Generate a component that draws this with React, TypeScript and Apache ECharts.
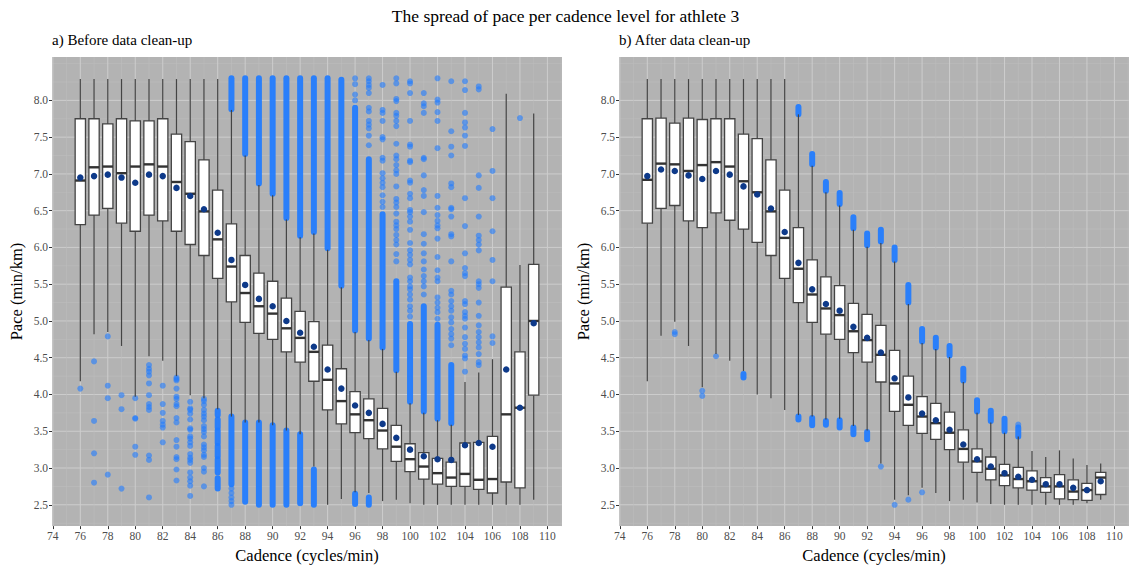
import React, { useEffect, useRef } from "react";
import * as echarts from "echarts";

// ---- axis ticks & grid positions ----
const xTicks = [74, 76, 78, 80, 82, 84, 86, 88, 90, 92, 94, 96, 98, 100, 102, 104, 106, 108, 110];
const xMinor = [75, 77, 79, 81, 83, 85, 87, 89, 91, 93, 95, 97, 99, 101, 103, 105, 107, 109, 111];
const yTicks = [2.5, 3.0, 3.5, 4.0, 4.5, 5.0, 5.5, 6.0, 6.5, 7.0, 7.5, 8.0];
const yMinor = [2.25, 2.75, 3.25, 3.75, 4.25, 4.75, 5.25, 5.75, 6.25, 6.75, 7.25, 7.75, 8.25, 8.5];

// ---- a) before clean-up: [cadence, lower whisker, Q1, median, Q3, upper whisker] ----
const beforeBoxes: number[][] = [
  [76, 4.18, 6.31, 6.91, 7.75, 8.29],
  [77, 4.82, 6.44, 7.09, 7.75, 8.29],
  [78, 4.85, 6.53, 7.10, 7.68, 8.29],
  [79, 4.66, 6.33, 7.01, 7.75, 8.29],
  [80, 3.97, 6.22, 7.10, 7.72, 8.29],
  [81, 4.52, 6.44, 7.13, 7.72, 8.29],
  [82, 4.46, 6.36, 7.10, 7.75, 8.29],
  [83, 4.25, 6.22, 6.89, 7.54, 8.29],
  [84, 3.99, 6.04, 6.73, 7.44, 8.29],
  [85, 3.95, 5.89, 6.49, 7.19, 8.29],
  [86, 3.80, 5.58, 6.11, 6.78, 8.29],
  [87, 3.70, 5.26, 5.74, 6.32, 7.87],
  [88, 3.62, 4.98, 5.38, 5.89, 7.25],
  [89, 3.62, 4.83, 5.20, 5.65, 6.85],
  [90, 3.58, 4.75, 5.10, 5.54, 6.71],
  [91, 3.51, 4.58, 4.90, 5.31, 6.38],
  [92, 3.46, 4.44, 4.77, 5.13, 6.14],
  [93, 3.02, 4.18, 4.58, 4.99, 6.19],
  [94, 2.50, 3.79, 4.20, 4.67, 5.97],
  [95, 2.58, 3.60, 3.91, 4.35, 5.46],
  [96, 2.67, 3.48, 3.73, 4.04, 4.85],
  [97, 2.66, 3.40, 3.65, 3.94, 4.74],
  [98, 2.55, 3.26, 3.51, 3.81, 4.62],
  [99, 2.57, 3.09, 3.29, 3.58, 4.31],
  [100, 2.52, 2.95, 3.12, 3.33, 3.88],
  [101, 2.50, 2.85, 3.02, 3.21, 3.75],
  [102, 2.50, 2.78, 2.93, 3.13, 3.65],
  [103, 2.50, 2.75, 2.87, 3.08, 3.59],
  [104, 2.50, 2.75, 2.92, 3.34, 4.17],
  [105, 2.50, 2.71, 2.84, 3.35, 4.30],
  [106, 2.50, 2.66, 2.85, 3.43, 4.48],
  [107, 2.50, 2.81, 3.73, 5.46, 8.09],
  [108, 2.50, 2.73, 3.82, 4.58, 5.76],
  [109, 2.57, 3.99, 5.00, 5.77, 7.82],
];

const beforeMeans: number[][] = [
  [76, 6.95], [77, 6.97], [78, 6.99], [79, 6.95], [80, 6.88], [81, 6.99], [82, 6.97],
  [83, 6.81], [84, 6.70], [85, 6.52], [86, 6.20], [87, 5.83], [88, 5.49], [89, 5.30],
  [90, 5.20], [91, 5.00], [92, 4.84], [93, 4.65], [94, 4.34], [95, 4.08], [96, 3.85],
  [97, 3.75], [98, 3.60], [99, 3.41], [100, 3.25], [101, 3.16], [102, 3.12], [103, 3.11],
  [104, 3.31], [105, 3.34], [106, 3.29], [107, 4.34], [108, 3.82], [109, 4.97],
];

// runs of overlapping outliers: [cadence, low, high]
const beforeOutlierRuns: number[][] = [
  [86, 3.72, 3.78], [86, 3.55, 3.66], [86, 3.34, 3.51], [86, 3.16, 3.30], [86, 2.94, 3.12], [86, 2.72, 2.86],
  [87, 2.78, 3.70], [88, 2.54, 3.62], [89, 2.50, 3.62], [90, 2.50, 3.58],
  [91, 2.50, 3.51], [92, 2.52, 3.46], [93, 2.50, 2.98], [96, 2.51, 2.65], [97, 2.50, 2.60],
  [87, 7.88, 8.30], [88, 7.27, 8.30], [89, 6.87, 8.30], [90, 6.73, 8.30], [91, 6.40, 8.30],
  [92, 6.16, 8.30], [93, 6.21, 8.30], [94, 5.99, 8.30], [95, 5.48, 8.28], [96, 4.87, 7.90],
  [97, 4.76, 7.20], [98, 4.64, 6.45], [99, 4.33, 5.54], [100, 3.90, 4.96], [101, 3.77, 5.20],
  [102, 3.67, 4.95], [103, 3.61, 4.40],
];

// single outliers per cadence
const beforeOutliers: [number, number[]][] = [
  [76, [4.08]],
  [77, [4.45, 3.64, 3.20, 2.80]],
  [78, [4.79, 4.12, 3.95, 2.91]],
  [79, [3.99, 3.80, 2.72]],
  [80, [3.95, 3.68, 3.67, 3.29, 3.18]],
  [81, [4.40, 4.35, 4.31, 4.26, 4.15, 3.99, 3.87, 3.83, 3.79, 3.17, 3.11, 2.60]],
  [82, [4.12, 3.87, 3.75, 3.64, 3.59, 3.55, 3.35]],
  [83, [4.23, 4.21, 4.19, 4.08, 3.97, 3.94, 3.87, 3.84, 3.68, 3.62, 3.38, 3.29, 3.15, 3.12, 2.98, 2.83]],
  [84, [3.90, 3.81, 3.79, 3.74, 3.66, 3.54, 3.52, 3.43, 3.40, 3.35, 3.30, 3.19, 3.14, 3.11, 3.07, 2.94, 2.87, 2.82, 2.76, 2.62]],
  [85, [3.94, 3.91, 3.86, 3.79, 3.74, 3.70, 3.65, 3.57, 3.53, 3.49, 3.43, 3.32, 3.28, 3.24, 3.18, 3.15, 3.00, 2.95, 2.75]],
  [87, [2.72, 2.66, 2.60, 2.55, 2.50]],
  [96, [8.30, 8.22, 8.08, 8.00]],
  [97, [8.30, 8.26, 8.21, 8.17, 8.10, 7.90, 7.85, 7.72, 7.67, 7.62, 7.52, 7.39]],
  [98, [8.21, 7.87, 7.83, 7.72, 7.50, 7.47, 7.22, 7.18, 7.01, 6.94, 6.88, 6.82, 6.71, 6.62, 6.55]],
  [99, [8.30, 8.23, 8.02, 7.99, 7.83, 7.79, 7.72, 7.65, 7.41, 7.25, 7.20, 7.12, 7.05, 7.00, 6.83, 6.66, 6.61, 6.55, 6.46, 6.35, 6.30, 6.25, 6.17, 6.10, 6.04, 5.91, 5.81]],
  [100, [8.26, 8.23, 8.10, 7.72, 7.40, 7.37, 7.18, 7.16, 6.91, 6.88, 6.73, 6.67, 6.51, 6.48, 6.42, 6.35, 6.24, 6.06, 5.96, 5.90, 5.83, 5.77, 5.59, 5.54, 5.47, 5.43, 5.36, 5.29, 5.20, 5.14, 5.06]],
  [101, [8.10, 7.96, 7.92, 7.83, 7.22, 7.20, 6.98, 6.78, 6.70, 6.48, 6.18, 6.05, 5.92, 5.81, 5.70, 5.61, 5.54, 5.47, 5.36]],
  [102, [8.30, 8.01, 7.97, 7.84, 7.72, 7.35, 6.70, 6.54, 6.44, 6.36, 6.30, 6.26, 6.12, 5.87, 5.69, 5.59, 5.54, 5.32, 5.25, 5.18, 5.12, 5.03]],
  [103, [8.26, 7.58, 7.37, 7.25, 6.87, 6.82, 6.54, 6.52, 6.42, 6.18, 6.15, 5.81, 5.41, 5.36, 5.27, 5.20, 5.14, 5.05, 4.98, 4.89, 4.82, 4.76, 4.67]],
  [104, [8.26, 8.14, 7.83, 7.70, 7.63, 7.52, 7.38, 6.67, 6.29, 5.92, 5.72, 5.65, 5.61, 5.27, 5.23, 5.12, 5.07, 5.03, 4.91, 4.78, 4.69, 4.62, 4.53, 4.49, 4.31]],
  [105, [8.19, 8.15, 6.98, 6.81, 6.42, 6.16, 6.10, 6.04, 5.96, 5.54, 5.50, 5.45, 5.25, 5.07, 4.94, 4.85, 4.78, 4.71, 4.64, 4.55, 4.44, 4.40]],
  [106, [7.61, 7.04, 6.67, 6.22, 5.83, 5.54, 4.79, 4.70]],
  [108, [7.76]],
];

// ---- b) after clean-up ----
const afterBoxes: number[][] = [
  [76, 4.18, 6.33, 6.92, 7.75, 8.29],
  [77, 4.80, 6.53, 7.14, 7.76, 8.29],
  [78, 4.99, 6.57, 7.13, 7.69, 8.29],
  [79, 4.66, 6.36, 7.04, 7.76, 8.29],
  [80, 4.10, 6.27, 7.12, 7.74, 8.29],
  [81, 4.55, 6.47, 7.16, 7.75, 8.29],
  [82, 4.46, 6.37, 7.10, 7.75, 8.29],
  [83, 4.32, 6.25, 6.90, 7.54, 8.29],
  [84, 4.00, 6.07, 6.75, 7.48, 8.29],
  [85, 3.95, 5.89, 6.49, 7.19, 8.29],
  [86, 3.79, 5.58, 6.13, 6.78, 8.29],
  [87, 3.72, 5.25, 5.71, 6.27, 7.81],
  [88, 3.70, 4.98, 5.36, 5.83, 7.11],
  [89, 3.66, 4.82, 5.17, 5.60, 6.75],
  [90, 3.67, 4.75, 5.08, 5.48, 6.57],
  [91, 3.57, 4.57, 4.86, 5.24, 6.24],
  [92, 3.51, 4.44, 4.74, 5.09, 6.01],
  [93, 3.06, 4.17, 4.54, 4.94, 6.06],
  [94, 2.57, 3.77, 4.15, 4.60, 5.81],
  [95, 2.63, 3.58, 3.86, 4.25, 5.23],
  [96, 2.73, 3.47, 3.70, 3.97, 4.70],
  [97, 2.66, 3.39, 3.61, 3.88, 4.62],
  [98, 2.55, 3.25, 3.48, 3.76, 4.51],
  [99, 2.57, 3.08, 3.26, 3.52, 4.17],
  [100, 2.53, 2.94, 3.09, 3.26, 3.75],
  [101, 2.51, 2.84, 2.99, 3.15, 3.62],
  [102, 2.50, 2.76, 2.90, 3.05, 3.48],
  [103, 2.50, 2.73, 2.85, 3.01, 3.43],
  [104, 2.50, 2.70, 2.82, 2.96, 3.23],
  [105, 2.50, 2.67, 2.75, 2.87, 3.15],
  [106, 2.50, 2.58, 2.75, 2.91, 3.24],
  [107, 2.50, 2.57, 2.68, 2.84, 3.13],
  [108, 2.52, 2.56, 2.70, 2.79, 3.04],
  [109, 2.57, 2.64, 2.87, 2.94, 3.06],
];

const afterMeans: number[][] = [
  [76, 6.97], [77, 7.06], [78, 7.04], [79, 6.98], [80, 6.93], [81, 7.04], [82, 6.99],
  [83, 6.83], [84, 6.72], [85, 6.53], [86, 6.21], [87, 5.79], [88, 5.43], [89, 5.23],
  [90, 5.14], [91, 4.92], [92, 4.77], [93, 4.57], [94, 4.22], [95, 3.96], [96, 3.74],
  [97, 3.65], [98, 3.52], [99, 3.32], [100, 3.12], [101, 3.02], [102, 2.93], [103, 2.88],
  [104, 2.84], [105, 2.78], [106, 2.78], [107, 2.73], [108, 2.70], [109, 2.82],
];

const afterOutlierRuns: number[][] = [
  [83, 4.23, 4.28],
  [87, 7.81, 7.91], [87, 3.66, 3.70],
  [88, 7.13, 7.27], [88, 3.58, 3.68],
  [89, 6.77, 6.89], [89, 3.59, 3.64],
  [90, 6.59, 6.74], [90, 3.55, 3.65],
  [91, 6.26, 6.41], [91, 3.46, 3.55],
  [92, 6.03, 6.19], [92, 3.39, 3.49],
  [93, 6.08, 6.24], [94, 5.83, 6.00], [95, 5.25, 5.49], [96, 4.72, 4.89],
  [97, 4.64, 4.77], [98, 4.53, 4.66], [99, 4.19, 4.35], [100, 3.77, 3.92],
  [101, 3.64, 3.78], [102, 3.50, 3.67], [103, 3.43, 3.55],
];

const afterOutliers: [number, number[]][] = [
  [78, [4.85, 4.82]],
  [80, [4.05, 3.98]],
  [81, [4.52]],
  [93, [3.02]],
  [94, [2.50]],
  [95, [2.57]],
  [96, [2.67]],
  [103, [3.59]],
];

const SERIF = "'Liberation Serif', 'Times New Roman', serif";
const BLUE = "#1f7bff";
const DOT = 6;

const flatten = (rows: [number, number[]][]) =>
  rows.flatMap(([c, vs]) => vs.map((v) => [c, v]));

const gridData = () => [
  ...yTicks.map((v) => [0, v, 1]),
  ...yMinor.map((v) => [0, v, 0]),
  ...xTicks.map((v) => [1, v, 1]),
  ...xMinor.map((v) => [1, v, 0]),
];

function renderGrid(params: any, api: any) {
  const cs = params.coordSys;
  const horizontal = api.value(0) === 0;
  const v = api.value(1);
  const major = api.value(2) === 1;
  const style = { stroke: major ? "#cdcdcd" : "#bebebe", lineWidth: major ? 1 : 0.6 };
  if (horizontal) {
    const y = api.coord([100, v])[1];
    return { type: "line", shape: { x1: cs.x, y1: y, x2: cs.x + cs.width, y2: y }, style };
  }
  const x = api.coord([v, 5])[0];
  return { type: "line", shape: { x1: x, y1: cs.y, x2: x, y2: cs.y + cs.height }, style };
}

function renderRun(_params: any, api: any) {
  const c = api.value(0);
  const lo = api.coord([c, api.value(1)]);
  const hi = api.coord([c, api.value(2)]);
  return {
    type: "rect",
    shape: { x: lo[0] - DOT / 2, y: hi[1] - DOT / 2, width: DOT, height: lo[1] - hi[1] + DOT, r: DOT / 2 },
    style: { fill: BLUE, opacity: 0.93 },
  };
}

function renderBox(_params: any, api: any) {
  const c = api.value(0);
  const lo = api.coord([c, api.value(1)]);
  const q1 = api.coord([c, api.value(2)]);
  const md = api.coord([c, api.value(3)]);
  const q3 = api.coord([c, api.value(4)]);
  const hi = api.coord([c, api.value(5)]);
  const w = api.size([0.75, 0])[0];
  const cx = lo[0];
  const stroke = "#444444";
  return {
    type: "group",
    children: [
      { type: "line", shape: { x1: cx, y1: hi[1], x2: cx, y2: q3[1] }, style: { stroke, lineWidth: 1.2 } },
      { type: "line", shape: { x1: cx, y1: q1[1], x2: cx, y2: lo[1] }, style: { stroke, lineWidth: 1.2 } },
      {
        type: "rect",
        shape: { x: cx - w / 2, y: q3[1], width: w, height: q1[1] - q3[1] },
        style: { fill: "#ffffff", stroke, lineWidth: 1.3 },
      },
      {
        type: "line",
        shape: { x1: cx - w / 2, y1: md[1], x2: cx + w / 2, y2: md[1] },
        style: { stroke: "#333333", lineWidth: 2.4 },
      },
    ],
  };
}

function panelSeries(idx: number, boxes: number[][], means: number[][], runs: number[][], singles: number[][]) {
  return [
    {
      type: "custom", xAxisIndex: idx, yAxisIndex: idx, z: 1, silent: true,
      renderItem: renderGrid, data: gridData(),
    },
    {
      type: "custom", xAxisIndex: idx, yAxisIndex: idx, z: 2, silent: true,
      renderItem: renderRun, data: runs, encode: { x: 0, y: [1, 2] },
    },
    {
      type: "scatter", xAxisIndex: idx, yAxisIndex: idx, z: 2, silent: true,
      symbol: "circle", symbolSize: DOT, data: singles,
      itemStyle: { color: "rgba(31,123,255,0.6)", opacity: 1 },
    },
    {
      type: "custom", xAxisIndex: idx, yAxisIndex: idx, z: 3, silent: true,
      renderItem: renderBox, data: boxes, encode: { x: 0, y: [1, 2, 3, 4, 5] },
    },
    {
      type: "scatter", xAxisIndex: idx, yAxisIndex: idx, z: 4, silent: true,
      symbol: "circle", symbolSize: 6.5, data: means,
      itemStyle: { color: "#0e3a8a", opacity: 1 },
    },
  ];
}

function xAxisFor(idx: number) {
  return {
    type: "value", gridIndex: idx, min: 73.94, max: 111.06,
    axisLine: { show: false }, splitLine: { show: false },
    axisTick: { show: true, customValues: xTicks, length: 3, lineStyle: { color: "#333333" } },
    axisLabel: { customValues: xTicks, color: "#4d4d4d", fontFamily: SERIF, fontSize: 11.5, margin: 4 },
    name: "Cadence (cycles/min)", nameLocation: "middle", nameGap: 19,
    nameTextStyle: { fontFamily: SERIF, fontSize: 16.5, color: "#000000" },
  };
}

function yAxisFor(idx: number) {
  return {
    type: "value", gridIndex: idx, min: 2.21, max: 8.59,
    axisLine: { show: false }, splitLine: { show: false },
    axisTick: { show: true, customValues: yTicks, length: 3, lineStyle: { color: "#333333" } },
    axisLabel: {
      customValues: yTicks, color: "#4d4d4d", fontFamily: SERIF, fontSize: 11.5, margin: 4,
      formatter: (v: number) => v.toFixed(1),
    },
    name: "Pace (min/km)", nameLocation: "middle", nameGap: 27,
    nameTextStyle: { fontFamily: SERIF, fontSize: 16.5, color: "#000000" },
  };
}

export default function App() {
  const ref = useRef<HTMLDivElement>(null);

  useEffect(() => {
    if (!ref.current) return;
    const chart = echarts.init(ref.current, null, { renderer: "svg" });
    const gridBase = { top: 57, height: 474, width: 510, show: true, backgroundColor: "#b3b3b3", borderWidth: 0 };
    chart.setOption({
      animation: false,
      backgroundColor: "#ffffff",
      title: [
        {
          text: "The spread of pace per cadence level for athlete 3", left: "center", top: 7, padding: 0,
          textStyle: { fontFamily: SERIF, fontSize: 17.5, fontWeight: "normal", color: "#000000" },
        },
        {
          text: "a) Before data clean-up", left: 52, top: 32, padding: 0,
          textStyle: { fontFamily: SERIF, fontSize: 15, fontWeight: "normal", color: "#000000" },
        },
        {
          text: "b) After data clean-up", left: 619, top: 32, padding: 0,
          textStyle: { fontFamily: SERIF, fontSize: 15, fontWeight: "normal", color: "#000000" },
        },
      ],
      grid: [
        { ...gridBase, left: 52 },
        { ...gridBase, left: 619 },
      ],
      xAxis: [xAxisFor(0), xAxisFor(1)],
      yAxis: [yAxisFor(0), yAxisFor(1)],
      series: [
        ...panelSeries(0, beforeBoxes, beforeMeans, beforeOutlierRuns, flatten(beforeOutliers)),
        ...panelSeries(1, afterBoxes, afterMeans, afterOutlierRuns, flatten(afterOutliers)),
      ],
    });
    return () => chart.dispose();
  }, []);

  return (
    <div
      ref={ref}
      style={{ position: "fixed", left: 0, top: 0, width: 1131, height: 569, background: "#ffffff" }}
    />
  );
}
